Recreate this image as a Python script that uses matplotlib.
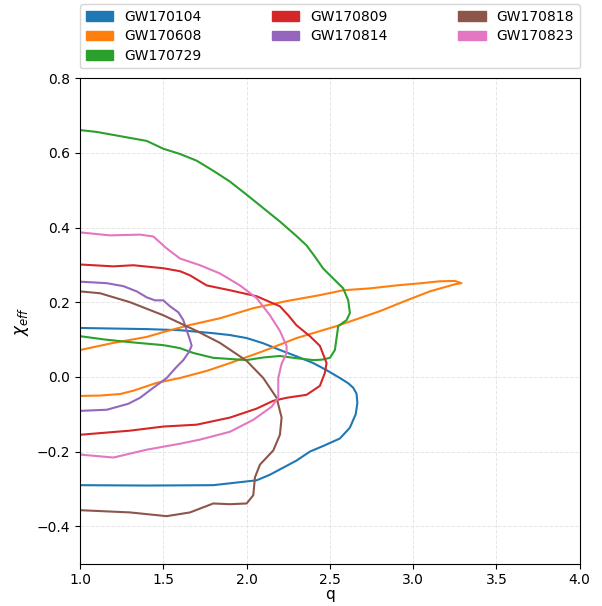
import numpy as np
import matplotlib
matplotlib.use("Agg")
import matplotlib.pyplot as plt
from matplotlib.patches import Patch

# contours: (q, chi_eff), open at q=1
events = ["GW170104", "GW170608", "GW170729", "GW170809",
          "GW170814", "GW170818", "GW170823"]

q_104 = [1.0, 1.4, 1.6, 1.8, 1.9, 2.0, 2.1, 2.2, 2.3, 2.4, 2.48, 2.56, 2.61,
         2.64, 2.66, 2.665, 2.655, 2.62, 2.56, 2.46, 2.38, 2.30, 2.22, 2.14,
         2.06, 1.9, 1.8, 1.4, 1.0]
chi_104 = [0.131, 0.128, 0.125, 0.117, 0.112, 0.104, 0.090, 0.072, 0.055,
           0.037, 0.018, -0.003, -0.017, -0.029, -0.045, -0.07, -0.10,
           -0.136, -0.165, -0.185, -0.20, -0.224, -0.243, -0.262, -0.277,
           -0.285, -0.290, -0.291, -0.290]

q_608 = [1.0, 1.2, 1.4, 1.5, 1.66, 1.84, 2.04, 2.24, 2.44, 2.58, 2.74, 2.90,
         3.05, 3.16, 3.25, 3.29, 3.25, 3.10, 2.95, 2.80, 2.54, 2.30, 2.10,
         1.90, 1.76, 1.60, 1.46, 1.32, 1.24, 1.12, 1.0]
chi_608 = [0.072, 0.091, 0.107, 0.120, 0.139, 0.157, 0.184, 0.203, 0.219,
           0.232, 0.237, 0.245, 0.251, 0.256, 0.257, 0.251, 0.248, 0.229,
           0.203, 0.176, 0.136, 0.104, 0.069, 0.037, 0.016, -0.003, -0.016,
           -0.037, -0.046, -0.050, -0.051]

q_729 = [1.0, 1.1, 1.2, 1.3, 1.4, 1.5, 1.6, 1.7, 1.8, 1.9, 2.0, 2.1, 2.2,
         2.3, 2.36, 2.41, 2.46, 2.53, 2.58, 2.61, 2.62, 2.60, 2.55, 2.54,
         2.53, 2.50, 2.45, 2.40, 2.30, 2.20, 2.10, 2.0, 1.8, 1.68, 1.6, 1.5,
         1.4, 1.3, 1.15, 1.0]
chi_729 = [0.661, 0.656, 0.648, 0.640, 0.632, 0.611, 0.597, 0.579, 0.552,
           0.523, 0.488, 0.452, 0.416, 0.377, 0.352, 0.322, 0.290, 0.259,
           0.237, 0.205, 0.171, 0.152, 0.136, 0.104, 0.072, 0.051, 0.046,
           0.045, 0.050, 0.056, 0.052, 0.045, 0.051, 0.064, 0.077, 0.085,
           0.089, 0.093, 0.100, 0.109]

q_809 = [1.0, 1.2, 1.32, 1.5, 1.6, 1.66, 1.76, 1.9, 2.06, 2.2, 2.25, 2.3,
         2.38, 2.44, 2.48, 2.47, 2.44, 2.36, 2.24, 2.16, 2.06, 1.9, 1.7, 1.5,
         1.3, 1.0]
chi_809 = [0.301, 0.296, 0.299, 0.291, 0.283, 0.272, 0.245, 0.232, 0.216,
           0.189, 0.165, 0.138, 0.109, 0.083, 0.037, 0.011, -0.024, -0.048,
           -0.056, -0.064, -0.085, -0.109, -0.128, -0.133, -0.144, -0.155]

q_814 = [1.0, 1.16, 1.26, 1.34, 1.40, 1.45, 1.50, 1.54, 1.59, 1.62, 1.64,
         1.66, 1.67, 1.65, 1.62, 1.58, 1.52, 1.44, 1.36, 1.29, 1.16, 1.0]
chi_814 = [0.255, 0.251, 0.243, 0.229, 0.213, 0.205, 0.205, 0.189, 0.173,
           0.152, 0.125, 0.099, 0.083, 0.064, 0.045, 0.027, -0.003, -0.029,
           -0.056, -0.072, -0.088, -0.091]

q_818 = [1.0, 1.12, 1.3, 1.5, 1.7, 1.84, 2.0, 2.10, 2.18, 2.21, 2.20, 2.16,
         2.08, 2.05, 2.04, 2.0, 1.9, 1.8, 1.66, 1.52, 1.3, 1.0]
chi_818 = [0.229, 0.224, 0.200, 0.165, 0.123, 0.091, 0.043, -0.003, -0.056,
           -0.109, -0.155, -0.197, -0.235, -0.269, -0.317, -0.339, -0.341,
           -0.339, -0.363, -0.373, -0.363, -0.357]

q_823 = [1.0, 1.18, 1.36, 1.44, 1.52, 1.60, 1.72, 1.84, 1.96, 2.06, 2.14,
         2.20, 2.24, 2.24, 2.21, 2.19, 2.19, 2.15, 2.04, 1.90, 1.72, 1.60,
         1.40, 1.20, 1.0]
chi_823 = [0.387, 0.379, 0.381, 0.376, 0.344, 0.317, 0.299, 0.277, 0.245,
           0.211, 0.165, 0.123, 0.083, 0.064, 0.035, -0.003, -0.056, -0.080,
           -0.115, -0.147, -0.168, -0.179, -0.195, -0.216, -0.208]

qs = [q_104, q_608, q_729, q_809, q_814, q_818, q_823]
chis = [chi_104, chi_608, chi_729, chi_809, chi_814, chi_818, chi_823]
colors = ["tab:blue", "tab:orange", "tab:green", "tab:red",
          "tab:purple", "tab:brown", "tab:pink"]

fig = plt.figure(figsize=(6.02, 6.06), dpi=100)
ax = fig.add_axes([0.133, 0.07, 0.83, 0.801])

for q, chi, c in zip(qs, chis, colors):
    ax.plot(q, chi, color=c, lw=1.5, solid_joinstyle="round")

ax.set_xlim(1.0, 4.0)
ax.set_ylim(-0.5, 0.8)
ax.set_xticks(np.arange(1.0, 4.01, 0.5))
ax.set_yticks([-0.4, -0.2, 0.0, 0.2, 0.4, 0.6, 0.8])
ax.grid(True, color="#e6e6e6", linestyle="--", lw=0.7)
ax.set_xlabel("q", fontsize=11, labelpad=0)
ax.set_ylabel(r"$\chi_{eff}$", fontsize=12)
ax.tick_params(labelsize=10)

handles = [Patch(color=c, label=e) for c, e in zip(colors, events)]
ax.legend(handles=handles, ncol=3, loc="lower left", mode="expand",
          bbox_to_anchor=(0, 1.02, 1, 0.1), fontsize=10, borderaxespad=0,
          labelspacing=0.4)

fig.savefig("out.png", dpi=100)
